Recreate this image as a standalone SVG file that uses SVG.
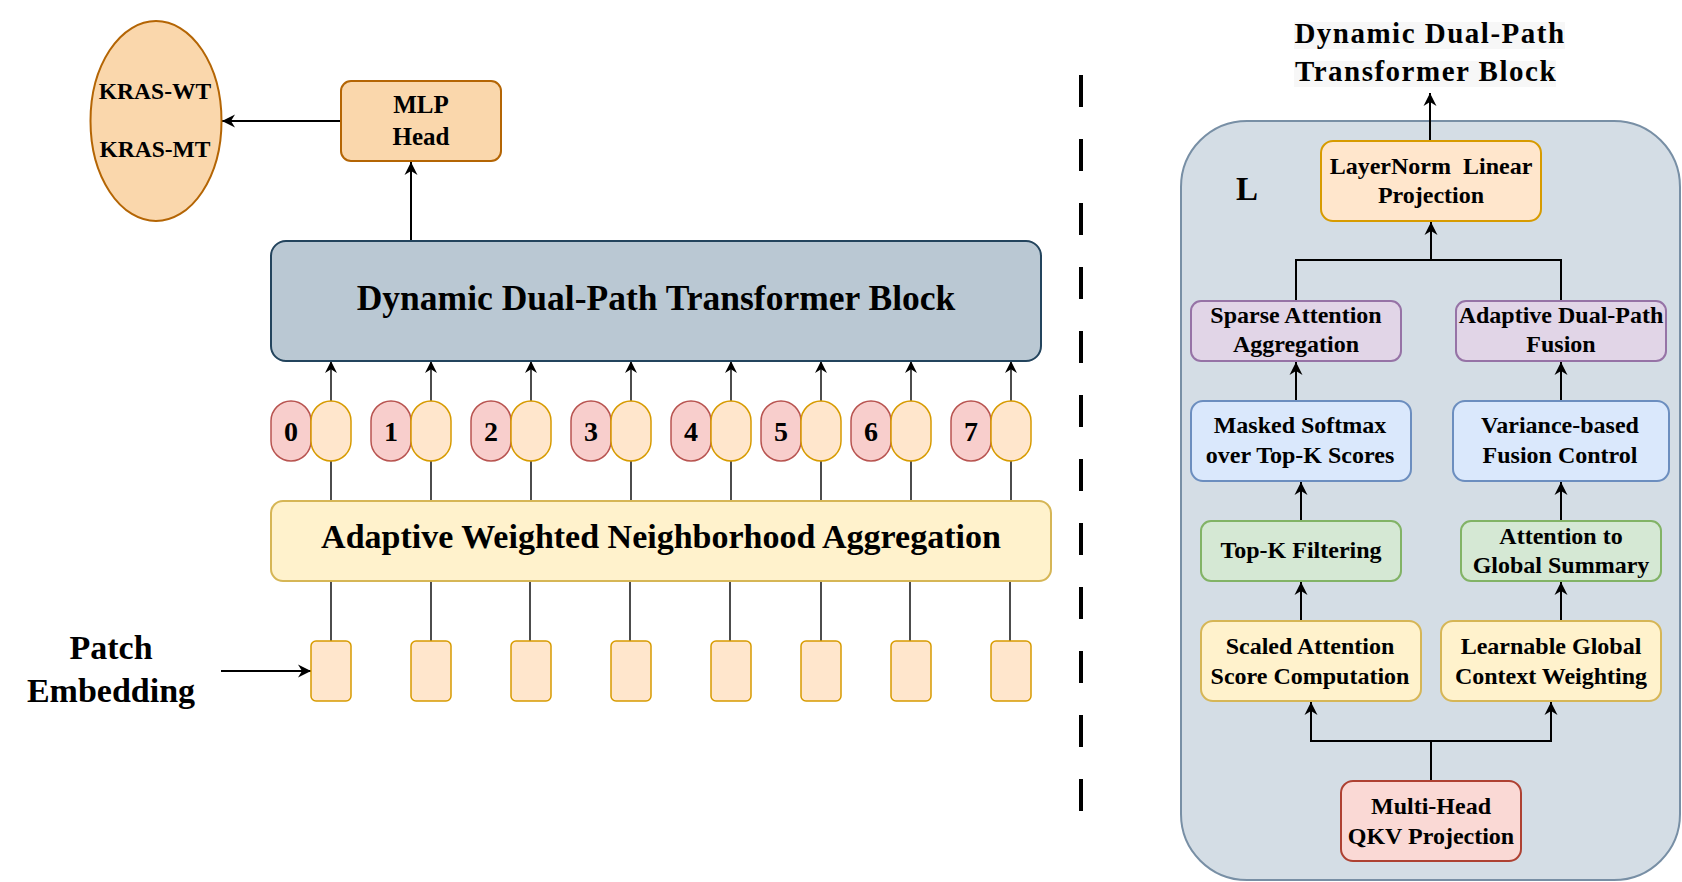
<svg xmlns="http://www.w3.org/2000/svg" width="1682" height="882" viewBox="0 0 1682 882">
<defs>
<marker id="arr" markerUnits="userSpaceOnUse" markerWidth="14" markerHeight="14" viewBox="0 0 14 14" refX="13" refY="7" orient="auto">
<path d="M0,0.5 L13,7 L0,13.5 L4,7 z" fill="#000"/>
</marker>
<marker id="arrS" markerUnits="userSpaceOnUse" markerWidth="13" markerHeight="13" viewBox="0 0 13 13" refX="12" refY="6.5" orient="auto">
<path d="M0,0.5 L12,6.5 L0,12.5 L3.8,6.5 z" fill="#000"/>
</marker>
<style>
text{font-family:"Liberation Serif","Times New Roman",serif;font-weight:bold;fill:#000;text-anchor:middle}
.red{fill:#F8CECC;stroke:#B85450;stroke-width:1.5}
.org{fill:#FFE6CC;stroke:#D79B00;stroke-width:1.5}
.line{fill:none;stroke:#000;stroke-width:1.4}
.thick{fill:none;stroke:#000;stroke-width:2}
.t24{font-size:24px}
.dig{font-size:28px}
</style>
</defs>
<rect width="1682" height="882" fill="#fff"/>

<g id="connectors">
<line class="thick" x1="341" y1="121" x2="222" y2="121" marker-end="url(#arr)"/>
<line class="thick" x1="411" y1="241" x2="411" y2="162" marker-end="url(#arr)"/>
<line class="thick" x1="221" y1="671" x2="311" y2="671" marker-end="url(#arr)"/>
<g>
<line class="line" x1="331" y1="401" x2="331" y2="361" marker-end="url(#arrS)"/>
<line class="line" x1="431" y1="401" x2="431" y2="361" marker-end="url(#arrS)"/>
<line class="line" x1="531" y1="401" x2="531" y2="361" marker-end="url(#arrS)"/>
<line class="line" x1="631" y1="401" x2="631" y2="361" marker-end="url(#arrS)"/>
<line class="line" x1="731" y1="401" x2="731" y2="361" marker-end="url(#arrS)"/>
<line class="line" x1="821" y1="401" x2="821" y2="361" marker-end="url(#arrS)"/>
<line class="line" x1="911" y1="401" x2="911" y2="361" marker-end="url(#arrS)"/>
<line class="line" x1="1011" y1="401" x2="1011" y2="361" marker-end="url(#arrS)"/>
</g>
<g>
<line class="line" x1="331" y1="461" x2="331" y2="501"/>
<line class="line" x1="431" y1="461" x2="431" y2="501"/>
<line class="line" x1="531" y1="461" x2="531" y2="501"/>
<line class="line" x1="631" y1="461" x2="631" y2="501"/>
<line class="line" x1="731" y1="461" x2="731" y2="501"/>
<line class="line" x1="821" y1="461" x2="821" y2="501"/>
<line class="line" x1="911" y1="461" x2="911" y2="501"/>
<line class="line" x1="1011" y1="461" x2="1011" y2="501"/>
</g>
<g>
<line class="line" x1="331" y1="581" x2="331" y2="641"/>
<line class="line" x1="431" y1="581" x2="431" y2="641"/>
<line class="line" x1="530" y1="581" x2="530" y2="641"/>
<line class="line" x1="630" y1="581" x2="630" y2="641"/>
<line class="line" x1="730" y1="581" x2="730" y2="641"/>
<line class="line" x1="821" y1="581" x2="821" y2="641"/>
<line class="line" x1="910" y1="581" x2="910" y2="641"/>
<line class="line" x1="1010" y1="581" x2="1010" y2="641"/>
</g>
</g>

<line id="divider" x1="1081" y1="75" x2="1081" y2="811" stroke="#000" stroke-width="4" stroke-dasharray="32 32"/>

<g id="out-ellipse">
<ellipse cx="156" cy="121" rx="65.5" ry="100" fill="#FAD7AC" stroke="#B46504" stroke-width="2"/>
<text x="155" y="99" style="font-size:23.5px">KRAS-WT</text>
<text x="155" y="157" style="font-size:23.5px">KRAS-MT</text>
</g>

<g id="mlp-head">
<rect x="341" y="81" width="160" height="80" rx="10" fill="#FAD7AC" stroke="#B46504" stroke-width="2"/>
<text x="421" y="113" style="font-size:25px">MLP</text>
<text x="421" y="145" style="font-size:25px">Head</text>
</g>

<g id="ddpt-block">
<rect x="271" y="241" width="770" height="120" rx="15" fill="#BAC8D3" stroke="#23445D" stroke-width="2"/>
<text x="656" y="310" style="font-size:35.5px">Dynamic Dual-Path Transformer Block</text>
</g>

<g id="tokens">
<g id="tok0"><rect class="red" x="271" y="401" width="40" height="60" rx="20" ry="20"/><rect class="org" x="311" y="401" width="40" height="60" rx="20" ry="20"/><text class="dig" x="291" y="441">0</text></g>
<g id="tok1"><rect class="red" x="371" y="401" width="40" height="60" rx="20" ry="20"/><rect class="org" x="411" y="401" width="40" height="60" rx="20" ry="20"/><text class="dig" x="391" y="441">1</text></g>
<g id="tok2"><rect class="red" x="471" y="401" width="40" height="60" rx="20" ry="20"/><rect class="org" x="511" y="401" width="40" height="60" rx="20" ry="20"/><text class="dig" x="491" y="441">2</text></g>
<g id="tok3"><rect class="red" x="571" y="401" width="40" height="60" rx="20" ry="20"/><rect class="org" x="611" y="401" width="40" height="60" rx="20" ry="20"/><text class="dig" x="591" y="441">3</text></g>
<g id="tok4"><rect class="red" x="671" y="401" width="40" height="60" rx="20" ry="20"/><rect class="org" x="711" y="401" width="40" height="60" rx="20" ry="20"/><text class="dig" x="691" y="441">4</text></g>
<g id="tok5"><rect class="red" x="761" y="401" width="40" height="60" rx="20" ry="20"/><rect class="org" x="801" y="401" width="40" height="60" rx="20" ry="20"/><text class="dig" x="781" y="441">5</text></g>
<g id="tok6"><rect class="red" x="851" y="401" width="40" height="60" rx="20" ry="20"/><rect class="org" x="891" y="401" width="40" height="60" rx="20" ry="20"/><text class="dig" x="871" y="441">6</text></g>
<g id="tok7"><rect class="red" x="951" y="401" width="40" height="60" rx="20" ry="20"/><rect class="org" x="991" y="401" width="40" height="60" rx="20" ry="20"/><text class="dig" x="971" y="441">7</text></g>
</g>

<g id="awna">
<rect x="271" y="501" width="780" height="80" rx="12" fill="#FFF2CC" stroke="#D6B656" stroke-width="2"/>
<text x="661" y="548" style="font-size:34px">Adaptive Weighted Neighborhood Aggregation</text>
</g>

<g id="patches">
<rect class="org" x="311" y="641" width="40" height="60" rx="5"/>
<rect class="org" x="411" y="641" width="40" height="60" rx="5"/>
<rect class="org" x="511" y="641" width="40" height="60" rx="5"/>
<rect class="org" x="611" y="641" width="40" height="60" rx="5"/>
<rect class="org" x="711" y="641" width="40" height="60" rx="5"/>
<rect class="org" x="801" y="641" width="40" height="60" rx="5"/>
<rect class="org" x="891" y="641" width="40" height="60" rx="5"/>
<rect class="org" x="991" y="641" width="40" height="60" rx="5"/>
</g>

<g id="patch-embedding-label">
<text x="111" y="659" style="font-size:34px">Patch</text>
<text x="111" y="702" style="font-size:34px">Embedding</text>
</g>

<g id="detail-title">
<rect x="1294" y="22" width="271" height="27" fill="#F7F7F7"/>
<rect x="1294" y="61" width="262" height="26" fill="#F7F7F7"/>
<text x="1430" y="43" style="font-size:29px;letter-spacing:1.5px">Dynamic Dual-Path</text>
<text x="1426" y="81" style="font-size:29px;letter-spacing:1.5px">Transformer Block</text>
</g>

<g id="container">
<rect x="1181" y="121" width="499" height="759" rx="66" fill="#D4DDE5" stroke="#788FA5" stroke-width="2"/>
<text x="1247" y="200" style="font-size:33px">L</text>
</g>

<g id="connectors-right">
<line class="thick" x1="1430" y1="141" x2="1430" y2="93" marker-end="url(#arr)"/>
<polyline class="thick" points="1296,301 1296,260 1561,260 1561,301"/>
<line class="thick" x1="1431" y1="260" x2="1431" y2="222" marker-end="url(#arr)"/>
<line class="thick" x1="1296" y1="401" x2="1296" y2="362" marker-end="url(#arr)"/>
<line class="thick" x1="1561" y1="401" x2="1561" y2="362" marker-end="url(#arr)"/>
<line class="thick" x1="1301" y1="521" x2="1301" y2="482" marker-end="url(#arr)"/>
<line class="thick" x1="1561" y1="521" x2="1561" y2="482" marker-end="url(#arr)"/>
<line class="thick" x1="1301" y1="621" x2="1301" y2="582" marker-end="url(#arr)"/>
<line class="thick" x1="1561" y1="621" x2="1561" y2="582" marker-end="url(#arr)"/>
<polyline class="thick" points="1431,781 1431,741 1311,741 1311,702" marker-end="url(#arr)"/>
<polyline class="thick" points="1431,741 1551,741 1551,702" marker-end="url(#arr)"/>
</g>

<g id="layernorm">
<rect x="1321" y="141" width="220" height="80" rx="12" fill="#FFE6CC" stroke="#D79B00" stroke-width="2"/>
<text class="t24" x="1431" y="174" xml:space="preserve">LayerNorm  Linear</text>
<text class="t24" x="1431" y="203">Projection</text>
</g>

<g id="sparse-agg">
<rect x="1191" y="301" width="210" height="60" rx="10" fill="#E1D5E7" stroke="#9673A6" stroke-width="2"/>
<text class="t24" x="1296" y="323">Sparse Attention</text>
<text class="t24" x="1296" y="352">Aggregation</text>
</g>

<g id="adaptive-fusion">
<rect x="1456" y="301" width="210" height="60" rx="10" fill="#E1D5E7" stroke="#9673A6" stroke-width="2"/>
<text class="t24" x="1561" y="323">Adaptive Dual-Path</text>
<text class="t24" x="1561" y="352">Fusion</text>
</g>

<g id="masked-softmax">
<rect x="1191" y="401" width="220" height="80" rx="12" fill="#DAE8FC" stroke="#6C8EBF" stroke-width="2"/>
<text class="t24" x="1300" y="433">Masked Softmax</text>
<text class="t24" x="1300" y="463">over Top-K Scores</text>
</g>

<g id="variance-fusion">
<rect x="1453" y="401" width="216" height="80" rx="12" fill="#DAE8FC" stroke="#6C8EBF" stroke-width="2"/>
<text class="t24" x="1560" y="433">Variance-based</text>
<text class="t24" x="1560" y="463">Fusion Control</text>
</g>

<g id="topk">
<rect x="1201" y="521" width="200" height="60" rx="10" fill="#D5E8D4" stroke="#82B366" stroke-width="2"/>
<text class="t24" x="1301" y="558">Top-K Filtering</text>
</g>

<g id="global-attn">
<rect x="1461" y="521" width="200" height="60" rx="10" fill="#D5E8D4" stroke="#82B366" stroke-width="2"/>
<text class="t24" x="1561" y="544">Attention to</text>
<text class="t24" x="1561" y="573">Global Summary</text>
</g>

<g id="scaled-attn">
<rect x="1201" y="621" width="220" height="80" rx="12" fill="#FFF2CC" stroke="#D6B656" stroke-width="2"/>
<text class="t24" x="1310" y="654">Scaled Attention</text>
<text class="t24" x="1310" y="684">Score Computation</text>
</g>

<g id="learnable-global">
<rect x="1441" y="621" width="220" height="80" rx="12" fill="#FFF2CC" stroke="#D6B656" stroke-width="2"/>
<text class="t24" x="1551" y="654">Learnable Global</text>
<text class="t24" x="1551" y="684">Context Weighting</text>
</g>

<g id="qkv">
<rect x="1341" y="781" width="180" height="80" rx="12" fill="#FAD9D5" stroke="#AE4132" stroke-width="2"/>
<text class="t24" x="1431" y="814">Multi-Head</text>
<text class="t24" x="1431" y="844">QKV Projection</text>
</g>
</svg>
